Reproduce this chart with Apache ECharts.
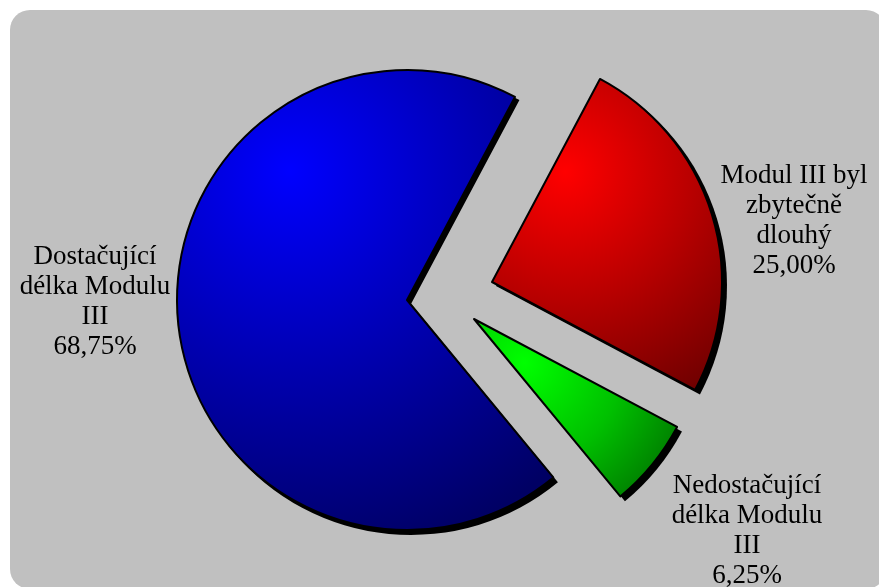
<!DOCTYPE html>
<html>
<head>
<meta charset="utf-8">
<script src="https://cdn.jsdelivr.net/npm/echarts@6/dist/echarts.min.js"></script>
<style>
  html, body { margin: 0; padding: 0; background: #ffffff; }
  #chart { width: 879px; height: 587px; }
</style>
</head>
<body>
<div id="chart"></div>
<script>
// Data
const categories = ['Modul III byl\nzbytečně\ndlouhý', 'Nedostačující\ndélka Modulu\nIII', 'Dostačující\ndélka Modulu\nIII'];
const values = [25.00, 6.25, 68.75];

// Styles (not data)
const sliceCenters = [[492, 282], [474, 319], [407, 300]];
const shadowOffset = [4, 4];
const labelPos = [[794, 221], [747, 531], [95, 302]];
const gradients = [
  { x: 0.32, y: 0.3, r: 1.1, stops: ['#FF0000', '#B80000', '#6E0000'] },
  { x: 0.25, y: 0.25, r: 1.1, stops: ['#00FF00', '#00C000', '#006800'] },
  { x: 0.3, y: 0.22, r: 1.05, stops: ['#0000FF', '#0000B0', '#000064'] }
];

function grad(g) {
  return new echarts.graphic.RadialGradient(g.x, g.y, g.r, [
    { offset: 0, color: g.stops[0] },
    { offset: 0.5, color: g.stops[1] },
    { offset: 1, color: g.stops[2] }
  ]);
}

const chart = echarts.init(document.getElementById('chart'), null, { renderer: 'canvas' });

function makeSeries(si, isShadow) {
  const c = sliceCenters[si];
  return {
    type: 'pie',
    z: isShadow ? 1 : 2,
    center: isShadow ? [c[0] + shadowOffset[0], c[1] + shadowOffset[1]] : c,
    radius: isShadow ? 231 : 230,
    startAngle: 62,
    clockwise: true,
    avoidLabelOverlap: false,
    silent: true,
    animation: false,
    emphasis: { disabled: true },
    labelLine: { show: false },
    labelLayout: { x: labelPos[si][0], y: labelPos[si][1], align: 'center', verticalAlign: 'middle' },
    data: categories.map(function (name, di) {
      const own = di === si;
      let itemStyle;
      if (!own) {
        itemStyle = { color: 'rgba(0,0,0,0)', borderWidth: 0 };
      } else if (isShadow) {
        itemStyle = { color: '#000000', borderWidth: 0 };
      } else {
        itemStyle = { color: grad(gradients[si]), borderColor: '#000000', borderWidth: 2 };
      }
      return {
        name: name,
        value: values[di],
        itemStyle: itemStyle,
        label: (own && !isShadow) ? {
          show: true,
          position: 'outside',
          formatter: function (p) {
            return p.name + '\n' + p.percent.toFixed(2).replace('.', ',') + '%';
          },
          fontFamily: '"Liberation Serif", "Times New Roman", serif',
          fontSize: 27,
          lineHeight: 30,
          color: '#000000',
          align: 'center'
        } : { show: false }
      };
    })
  };
}

const series = [];
categories.forEach(function (_, si) { series.push(makeSeries(si, true)); });
categories.forEach(function (_, si) { series.push(makeSeries(si, false)); });

chart.setOption({
  backgroundColor: '#ffffff',
  animation: false,
  graphic: [{
    type: 'rect',
    z: -10,
    silent: true,
    shape: { x: 10, y: 10, width: 876, height: 579, r: 20 },
    style: { fill: '#C0C0C0' }
  }],
  series: series
});
</script>
</body>
</html>
